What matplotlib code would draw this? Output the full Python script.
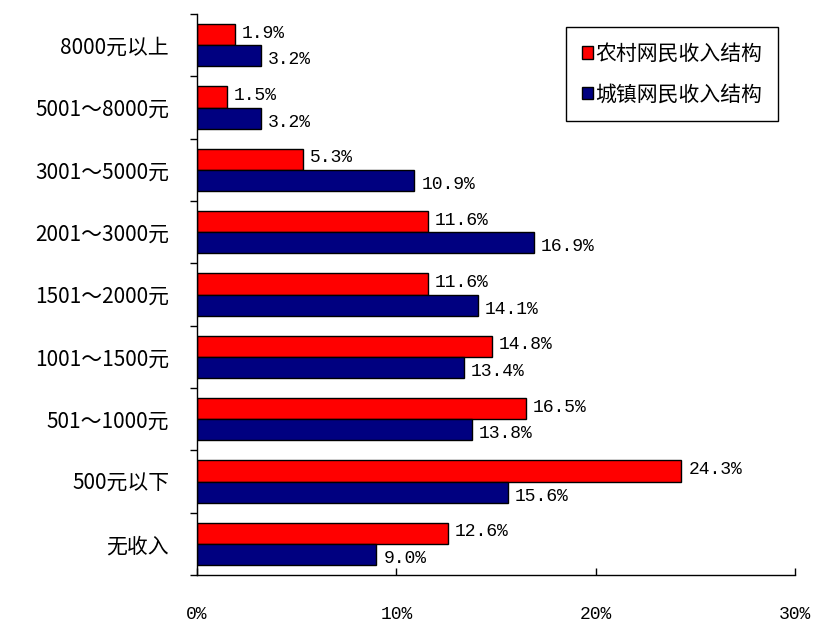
import matplotlib
matplotlib.use("Agg")
import matplotlib.pyplot as plt
import numpy as np
from matplotlib.ticker import FixedLocator, PercentFormatter

categories = ["无收入", "500元以下", "501～1000元", "1001～1500元", "1501～2000元",
              "2001～3000元", "3001～5000元", "5001～8000元", "8000元以上"]
rural = [12.6, 24.3, 16.5, 14.8, 11.6, 11.6, 5.3, 1.5, 1.9]
urban = [9.0, 15.6, 13.8, 13.4, 14.1, 16.9, 10.9, 3.2, 3.2]
series_names = ["农村网民收入结构", "城镇网民收入结构"]
xticks = [0, 10, 20, 30]

cjk = ["Noto Sans CJK SC", "DejaVu Sans"]
mono = ["Liberation Mono", "DejaVu Sans Mono"]

fig = plt.figure(figsize=(8.15, 6.32), dpi=100)
ax = fig.add_axes([197/815, 1-575/632, (795-197)/815, (575-14)/632])

y = np.arange(len(categories))
h = 0.34
ax.barh(y + h/2, rural, height=h, color="#FF0000", edgecolor="black", linewidth=1, label=series_names[0])
ax.barh(y - h/2, urban, height=h, color="#000080", edgecolor="black", linewidth=1, label=series_names[1])

for yi, v in zip(y, rural):
    ax.annotate(f"{v:.1f}%", (v, yi + h/2), xytext=(5, 1), textcoords="offset points",
                va="center", ha="left", fontsize=13, family=mono)
for yi, v in zip(y, urban):
    ax.annotate(f"{v:.1f}%", (v, yi - h/2), xytext=(5, -3), textcoords="offset points",
                va="center", ha="left", fontsize=13, family=mono)

ax.set_xlim(0, 30)
ax.set_ylim(-0.5, len(categories) - 0.5)
ax.xaxis.set_major_locator(FixedLocator(xticks))
ax.xaxis.set_major_formatter(PercentFormatter(decimals=0))
ax.tick_params(axis="x", direction="in", length=5, width=1, pad=22, labelsize=13)
for lab in ax.get_xticklabels():
    lab.set_family(mono)

ax.set_yticks(y)
ax.set_yticklabels(categories, family=cjk, fontsize=15)
ax.tick_params(axis="y", which="major", length=0, pad=20)
ax.yaxis.set_minor_locator(FixedLocator(np.arange(-0.5, len(categories), 1.0)))
ax.tick_params(axis="y", which="minor", direction="out", length=5, width=1)

for s in ["top", "right"]:
    ax.spines[s].set_visible(False)
for s in ["left", "bottom"]:
    ax.spines[s].set_linewidth(1)

leg = ax.legend(loc="upper right", bbox_to_anchor=(778/815, 1-27/632), bbox_transform=fig.transFigure,
                prop={"family": cjk, "size": 15}, frameon=True, fancybox=False,
                handlelength=0.55, handleheight=0.55, handletextpad=0.1, labelspacing=0.9,
                borderpad=0.75, borderaxespad=0)
leg.get_frame().set_edgecolor("black")
leg.get_frame().set_linewidth(1)
leg.get_frame().set_alpha(1)

fig.savefig("out.png", dpi=100, facecolor="white")
